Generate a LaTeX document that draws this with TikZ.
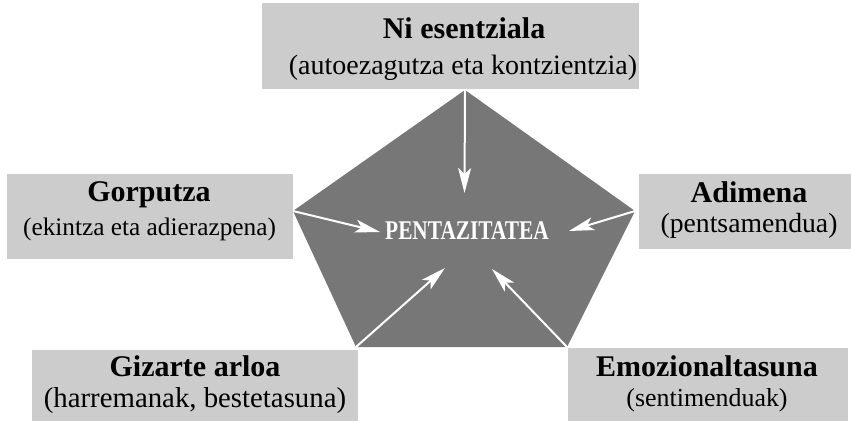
\documentclass[tikz,border=0pt]{standalone}
\usepackage{fontspec}
\setmainfont{Liberation Serif}
\usetikzlibrary{arrows.meta}
\definecolor{boxgray}{RGB}{204,204,204}
\definecolor{pentgray}{RGB}{119,119,119}
\begin{document}
\begin{tikzpicture}[x=1pt,y=-1pt,
  box/.style={fill=boxgray,inner sep=0pt,outer sep=0pt},
  head/.style={anchor=base,inner sep=0pt,font=\fontsize{30}{36}\selectfont\bfseries},
  sub/.style={anchor=base,inner sep=0pt},
  arr/.style={draw=white,line width=2pt,-{Stealth[length=25pt,width=13pt,inset=6pt]}}]
\useasboundingbox (0,0) rectangle (851,422);
% boxes
\node[box,minimum width=377pt,minimum height=86pt] (btop) at (450.5,46) {};
\node[box,minimum width=286pt,minimum height=85pt] (bgor) at (150,216.5) {};
\node[box,minimum width=212pt,minimum height=75pt] (badi) at (745,211.5) {};
\node[box,minimum width=326pt,minimum height=71pt] (bgiz) at (195,385.5) {};
\node[box,minimum width=280pt,minimum height=73pt] (bemo) at (708,384.5) {};
% pentagon
\coordinate (pT) at (465,90);
\coordinate (pL) at (293,211);
\coordinate (pR) at (635,211);
\coordinate (pBL) at (356,347);
\coordinate (pBR) at (567,347);
\fill[pentgray] (pT) -- (pR) -- (pBR) -- (pBL) -- (pL) -- cycle;
% labels
\node[head] (ttop) at (464,39) {Ni esentziala};
\node[sub,font=\fontsize{28}{34}\selectfont] (stop) at (463,75) {(autoezagutza eta kontzientzia)};
\node[head] (tgor) at (149,202) {Gorputza};
\node[sub,font=\fontsize{25.3}{30}\selectfont] (sgor) at (149.5,235) {(ekintza eta adierazpena)};
\node[head] (tadi) at (749,203) {Adimena};
\node[sub,font=\fontsize{27.7}{33}\selectfont] (sadi) at (749,233) {(pentsamendua)};
\node[head] (tgiz) at (195,376) {Gizarte arloa};
\node[sub,font=\fontsize{28.8}{34}\selectfont] (sgiz) at (195,407) {(harremanak, bestetasuna)};
\node[head] (temo) at (707,376) {Emozionaltasuna};
\node[sub,font=\fontsize{25.9}{31}\selectfont] (semo) at (707,406) {(sentimenduak)};
\node[anchor=base,inner sep=0pt,text=white,font=\fontsize{27}{32}\selectfont\bfseries] (center) at (467,240) {\scalebox{0.79}[1]{PENTAZITATEA}};
% arrow tips
\coordinate (aT) at (464.5,193);
\coordinate (aL) at (380,232);
\coordinate (aR) at (569,231);
\coordinate (aBL) at (445,268);
\coordinate (aBR) at (492,269);
\draw[arr] (pT) -- (aT);
\draw[arr] (pL) -- (aL);
\draw[arr] (pR) -- (aR);
\draw[arr] (pBL) -- (aBL);
\draw[arr] (pBR) -- (aBR);
\end{tikzpicture}
\end{document}
